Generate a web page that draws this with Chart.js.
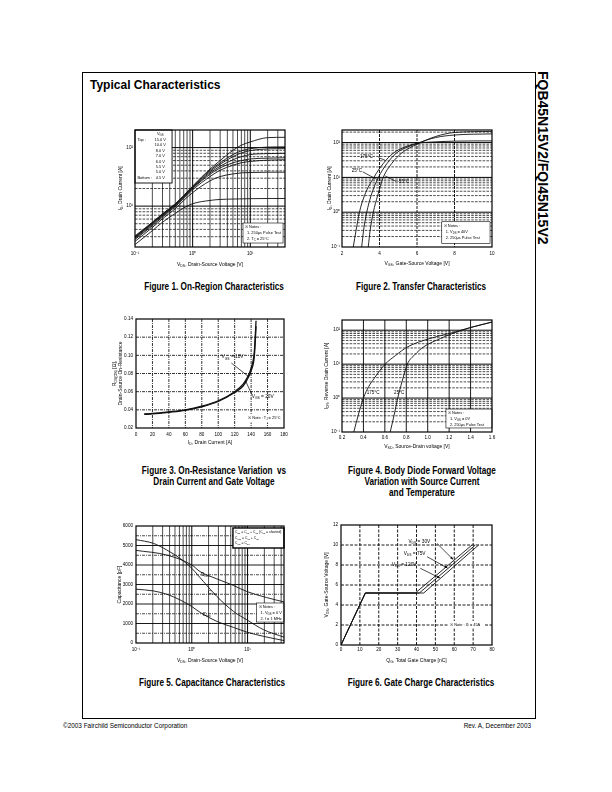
<!DOCTYPE html>
<html><head><meta charset="utf-8">
<script src="https://cdn.jsdelivr.net/npm/chart.js@4.4.0/dist/chart.umd.min.js"></script>
<style>
html,body{margin:0;padding:0;background:#fff;}
body{width:612px;height:792px;position:relative;overflow:hidden;font-family:"Liberation Sans",Arial,sans-serif;color:#000;}
#frame{position:absolute;left:82px;top:72px;width:454px;height:647px;border:1px solid #000;box-sizing:border-box;}
#title{position:absolute;left:90px;top:78px;font-weight:bold;font-size:12px;line-height:14px;white-space:nowrap;}
#side{position:absolute;left:535px;top:71px;writing-mode:vertical-rl;font-weight:bold;font-size:14px;line-height:16px;white-space:nowrap;}
.cap{position:absolute;width:260px;margin-left:-130px;font-weight:bold;font-size:10.5px;line-height:11px;text-align:center;transform:scaleX(0.78);white-space:nowrap;}
.foot{position:absolute;top:722px;font-size:6.4px;line-height:7px;white-space:nowrap;}
canvas{position:absolute;}
</style></head>
<body>
<div id="frame"></div>
<div id="title">Typical Characteristics</div>
<div id="side">FQB45N15V2/FQI45N15V2</div>
<div class="cap" style="left:214px;top:281px">Figure 1. On-Region Characteristics</div>
<div class="cap" style="left:421px;top:281px">Figure 2. Transfer Characteristics</div>
<div class="cap" style="left:214px;top:465px">Figure 3. On-Resistance Variation &nbsp;vs<br>Drain Current and Gate Voltage</div>
<div class="cap" style="left:422px;top:465px">Figure 4. Body Diode Forward Voltage<br>Variation with Source Current<br>and Temperature</div>
<div class="cap" style="left:212px;top:677px">Figure 5. Capacitance Characteristics</div>
<div class="cap" style="left:421px;top:677px">Figure 6. Gate Charge Characteristics</div>
<div class="foot" style="left:63px">©2003 Fairchild Semiconductor Corporation</div>
<div class="foot" style="right:81px">Rev. A, December 2003</div>
<script>
// ---------------- DATA ----------------
// Figure 1: On-Region characteristics (VDS [V] vs ID [A])
const f1Vds   = [0.1, 0.2, 0.3, 0.5, 0.7, 1, 2, 3, 5, 7, 10, 20, 40];
const f1Vgs   = ['15.0 V','10.0 V','8.0 V','7.0 V','6.0 V','5.5 V','5.0 V','4.5 V'];
const f1I15   = [3.1, 5.3, 7.4, 11.0, 15.2, 22.0, 43, 60, 90, 110, 125, 148, 150];
const f1I10   = [3.0, 5.2, 7.3, 10.8, 15.0, 21.5, 41, 55, 76, 88, 96, 102, 103];
const f1I8    = [2.95, 5.1, 7.2, 10.6, 14.7, 21.0, 39, 52, 70, 81, 89, 95, 96];
const f1I7    = [2.9, 5.0, 7.0, 10.4, 14.4, 20.5, 37, 48, 62, 70, 76, 79, 80];
const f1I6    = [2.8, 4.8, 6.8, 10.1, 14.0, 20.0, 35, 45, 55, 60, 64, 66, 67];
const f1I55   = [2.7, 4.6, 6.5, 9.8, 13.5, 19.0, 32, 41, 50, 55, 58, 61, 62];
const f1I5    = [2.5, 4.3, 6.1, 9.0, 12.5, 17.0, 27, 32, 35.5, 37, 37.5, 38, 38];
const f1I45   = [2.2, 3.8, 5.3, 7.5, 9.3, 11.0, 12.5, 13, 13.2, 13.3, 13.4, 13.5, 13.5];
const f1XTicks = [0.1, 1, 10];   const f1XLabels = ['10⁻¹','10⁰','10¹'];
const f1YTicks = [10, 100];      const f1YLabels = ['10¹','10²'];

// Figure 2: Transfer characteristics (VGS [V] vs ID [A])
const f2T175x = [2.6, 2.75, 2.93, 3.2, 3.7, 4.2, 4.74, 5.5, 6, 7, 8, 10];
const f2T175y = [0.1, 0.3, 1, 3, 10, 25, 50, 80, 95, 105, 110, 112];
const f2T25x  = [3.05, 3.15, 3.32, 3.55, 3.94, 4.4, 4.9, 5.5, 6, 7, 8, 10];
const f2T25y  = [0.1, 0.3, 1, 3, 10, 25, 50, 75, 95, 140, 165, 178];
const f2Tm55x = [3.4, 3.5, 3.67, 3.9, 4.2, 4.65, 5.18, 5.6, 6, 7, 8, 10];
const f2Tm55y = [0.1, 0.3, 1, 3, 10, 25, 50, 70, 90, 150, 195, 210];
const f2XTicks = [2, 4, 6, 8, 10];
const f2YTicks = [0.1, 1, 10, 100];  const f2YLabels = ['10⁻¹','10⁰','10¹','10²'];

// Figure 3: On-resistance (ID [A] vs RDS(on) [ohm])
const f3Id    = [10, 20, 40, 60, 80, 100, 120, 130, 135, 140, 144, 146];
const f3R10   = [0.0355, 0.036, 0.0378, 0.0400, 0.0440, 0.0500, 0.0600, 0.0680, 0.0750, 0.0860, 0.1050, 0.1380];
const f3R20   = [0.0350, 0.0355, 0.0373, 0.0395, 0.0433, 0.0492, 0.0590, 0.0660, 0.0730, 0.0830, 0.1000, 0.1320];
const f3XTicks = [0, 20, 40, 60, 80, 100, 120, 140, 160, 180];
const f3YTicks = [0.02, 0.04, 0.06, 0.08, 0.10, 0.12, 0.14];

// Figure 4: Body diode (VSD [V] vs IDR [A])
const f4T175x = [0.31, 0.35, 0.40, 0.45, 0.50, 0.60, 0.70, 0.81, 1.02, 1.24, 1.40, 1.60];
const f4T175y = [0.1, 0.3, 1, 2.2, 3.8, 9.8, 18, 32, 57, 86, 120, 174];
const f4T25x  = [0.65, 0.685, 0.72, 0.76, 0.81, 0.88, 0.96, 1.12, 1.24, 1.40, 1.60];
const f4T25y  = [0.1, 0.3, 1, 3, 10, 19, 32, 57, 82, 120, 174];
const f4XTicks = [0.2, 0.4, 0.6, 0.8, 1.0, 1.2, 1.4, 1.6];
const f4YTicks = [0.1, 1, 10, 100];  const f4YLabels = ['10⁻¹','10⁰','10¹','10²'];

// Figure 5: Capacitance (VDS [V] vs C [pF])
const f5CossX = [0.1, 0.205, 0.356, 0.617, 1.0, 1.62, 2.81, 5.6, 9.7, 19.4, 46];
const f5Coss  = [5300, 5110, 4770, 4340, 3830, 3150, 2390, 1620, 1190, 680, 290];
const f5CissX = [0.1, 0.356, 1.0, 1.41, 2.81, 5.6, 9.7, 22, 46];
const f5Ciss  = [4750, 4510, 4000, 3660, 3290, 2950, 2640, 2330, 2100];
const f5CrssX = [0.1, 0.205, 0.356, 0.617, 1.0, 1.41, 2.81, 5.6, 9.7, 19.4, 46];
const f5Crss  = [2760, 2670, 2500, 2210, 1870, 1570, 1110, 800, 560, 340, 120];
const f5XTicks = [0.1, 1, 10];   const f5XLabels = ['10⁻¹','10⁰','10¹'];
const f5YTicks = [0, 1000, 2000, 3000, 4000, 5000, 6000];

// Figure 6: Gate charge (QG [nC] vs VGS [V])
const f6Q30  = [0, 12.9, 39.4, 69.4];
const f6Q75  = [0, 12.9, 41.5, 71.2];
const f6Q120 = [0, 12.9, 43.8, 72.9];
const f6Vgs  = [0, 5.2, 5.2, 10];
const f6XTicks = [0, 10, 20, 30, 40, 50, 60, 70, 80];
const f6YTicks = [0, 2, 4, 6, 8, 10, 12];

// ---------------- RENDERING ----------------
const FAM = "'Liberation Sans', Arial, sans-serif";
Chart.defaults.font.family = FAM;
Chart.defaults.color = '#000';

function rich(ctx, str, x, y, size, align, rot){
  const parts = []; const re = /_\{([^}]*)\}|\^\{([^}]*)\}|([^_^]+)/g; let m;
  while((m = re.exec(str))){
    if(m[1] !== undefined) parts.push({t:m[1],k:1});
    else if(m[2] !== undefined) parts.push({t:m[2],k:2});
    else parts.push({t:m[3],k:0});
  }
  const fs = k => k ? size*0.7 : size;
  let w = 0;
  parts.forEach(p => { ctx.font = fs(p.k)+'px '+FAM; p.w = ctx.measureText(p.t).width; w += p.w; });
  ctx.save(); ctx.translate(x, y); if(rot) ctx.rotate(rot);
  let cx = align==='center' ? -w/2 : align==='right' ? -w : 0;
  ctx.textBaseline = 'middle'; ctx.textAlign = 'left'; ctx.fillStyle = '#000';
  parts.forEach(p => { ctx.font = fs(p.k)+'px '+FAM; ctx.fillText(p.t, cx, p.k===1 ? size*0.3 : p.k===2 ? -size*0.35 : 0); cx += p.w; });
  ctx.restore();
  return w;
}

const deco = {
  id: 'deco',
  beforeDatasetsDraw(chart, args, o){
    const {ctx, chartArea:a, scales:{x, y}} = chart;
    ctx.save();
    ctx.beginPath(); ctx.rect(a.left, a.top, a.width, a.height); ctx.clip();
    (o.gx||[]).forEach(g => {
      ctx.strokeStyle = g.c || '#000'; ctx.lineWidth = g.w; ctx.setLineDash(g.d || []);
      g.v.forEach(v => { const p = x.getPixelForValue(v); ctx.beginPath(); ctx.moveTo(p, a.top); ctx.lineTo(p, a.bottom); ctx.stroke(); });
    });
    (o.gy||[]).forEach(g => {
      ctx.strokeStyle = g.c || '#000'; ctx.lineWidth = g.w; ctx.setLineDash(g.d || []);
      g.v.forEach(v => { const p = y.getPixelForValue(v); ctx.beginPath(); ctx.moveTo(a.left, p); ctx.lineTo(a.right, p); ctx.stroke(); });
    });
    ctx.restore();
  },
  afterDatasetsDraw(chart, args, o){
    const {ctx, chartArea:a, scales:{x, y}} = chart;
    const fx = f => a.left + f*a.width, fy = f => a.top + f*a.height;
    ctx.save();
    ctx.setLineDash([]);
    (o.leaders||[]).forEach(l => {
      const x1 = x.getPixelForValue(l[0]), y1 = y.getPixelForValue(l[1]);
      const x2 = x.getPixelForValue(l[2]), y2 = y.getPixelForValue(l[3]);
      ctx.strokeStyle = '#000'; ctx.lineWidth = 0.7;
      ctx.beginPath(); ctx.moveTo(x1, y1); ctx.lineTo(x2, y2); ctx.stroke();
      if(l[4]){
        const ang = Math.atan2(y2-y1, x2-x1), L = 3.2, s = 0.4;
        ctx.fillStyle = '#000'; ctx.beginPath(); ctx.moveTo(x2, y2);
        ctx.lineTo(x2 - L*Math.cos(ang-s), y2 - L*Math.sin(ang-s));
        ctx.lineTo(x2 - L*Math.cos(ang+s), y2 - L*Math.sin(ang+s)); ctx.closePath(); ctx.fill();
      }
    });
    (o.labels||[]).forEach(l => {
      const px = x.getPixelForValue(l.x), py = y.getPixelForValue(l.y);
      rich(ctx, l.t, px, py, l.s || 5, l.a || 'left');
    });
    (o.boxes||[]).forEach(b => {
      const X1 = fx(b.f[0]), Y1 = fy(b.f[1]), X2 = fx(b.f[2]), Y2 = fy(b.f[3]);
      ctx.fillStyle = '#fff'; ctx.fillRect(X1, Y1, X2-X1, Y2-Y1);
      if(b.lw){ ctx.lineWidth = b.lw; ctx.strokeStyle = '#000'; ctx.strokeRect(X1, Y1, X2-X1, Y2-Y1); }
      b.rows.forEach((r, i) => {
        const ry = Y1 + b.pad + b.lh*(i+0.5);
        if(Array.isArray(r)){
          if(r[0]) rich(ctx, r[0], X1 + 2.5, ry, b.s, 'left');
          if(r[1]) rich(ctx, r[1], X1 + b.col*(X2-X1), ry, b.s, 'center');
        } else rich(ctx, r, X1 + (b.ind ? b.ind[i] : 2), ry, b.s, 'left');
      });
    });
    ctx.strokeStyle = '#000'; ctx.lineWidth = 1.2; ctx.strokeRect(a.left, a.top, a.width, a.height);
    rich(ctx, o.xt, (a.left + a.right)/2, a.bottom + o.xo, 5, 'center');
    o.yt.forEach((t, i) => rich(ctx, t, a.left - o.yo[i], (a.top + a.bottom)/2, 5, 'center', -Math.PI/2));
    ctx.restore();
  }
};

const PADL = 34, PADT = 8, PADR = 10, PADB = 26;
function axis(kind, type, min, max, vals, labels, pad){
  return {
    type, min, max,
    grid: {display:false, drawTicks:false}, border: {display:false},
    ticks: {font:{size:4.6}, color:'#000', padding:pad, autoSkip:false, maxRotation:0, minRotation:0,
            callback: (v, i) => labels[i]},
    afterBuildTicks: s => { s.ticks = vals.map(v => ({value:v})); },
    afterFit: s => { if(kind === 'x') s.height = PADB; else s.width = PADL; }
  };
}
function series(xs, ys, w, tension){
  return {data: xs.map((v, i) => ({x:v, y:ys[i]})), borderColor:'#111', borderWidth:w || 0.9,
          pointRadius:0, fill:false, tension: tension === undefined ? 0.4 : tension,
          cubicInterpolationMode: tension === 0 ? 'default' : 'monotone'};
}
function make(rect, datasets, xs, ys, decoOpts){
  const W = rect[2]-rect[0]+PADL+PADR, H = rect[3]-rect[1]+PADT+PADB;
  const cv = document.createElement('canvas');
  cv.width = W; cv.height = H;
  cv.style.left = (rect[0]-PADL)+'px'; cv.style.top = (rect[1]-PADT)+'px';
  cv.style.width = W+'px'; cv.style.height = H+'px';
  document.body.appendChild(cv);
  new Chart(cv, {
    type: 'line',
    data: {datasets},
    options: {
      responsive:false, animation:false, devicePixelRatio:1,
      layout: {padding:{left:0, top:PADT, right:PADR, bottom:0}},
      plugins: {legend:{display:false}, tooltip:{enabled:false}, deco:decoOpts},
      scales: {x:xs, y:ys}
    },
    plugins: [deco]
  });
}
const mins = d => [2,3,4,5,6,7,8,9].map(k => +(k*d).toPrecision(3));
const fmt = (arr, n) => arr.map(v => v.toFixed(n));
const DASH = [2.6, 1.2], DASHDOT = [3, 1, 1, 1];
const NOTE = '※ ';

// Figure 1
make([135,130,285,247],
  [series(f1Vds,f1I15), series(f1Vds,f1I10), series(f1Vds,f1I8), series(f1Vds,f1I7),
   series(f1Vds,f1I6), series(f1Vds,f1I55), series(f1Vds,f1I5), series(f1Vds,f1I45)],
  axis('x','logarithmic',0.1,40,f1XTicks,f1XLabels,3.5),
  axis('y','logarithmic',2,200,f1YTicks,f1YLabels,2),
  {
    gx:[{v:[...mins(0.1),...mins(1),20,30], w:0.7}, {v:[1,10], w:1}],
    gy:[{v:[3,4,5,6,7,8,9,...mins(10)], d:DASH, w:0.7}, {v:[10,100], w:1}],
    boxes:[
      {f:[0,0,0.247,0.453], lw:0.9, s:3.9, lh:5.45, pad:1.5, col:0.68,
       rows:[['','V_{GS}'], ['Top :',f1Vgs[0]], ['',f1Vgs[1]], ['',f1Vgs[2]], ['',f1Vgs[3]],
             ['',f1Vgs[4]], ['',f1Vgs[5]], ['',f1Vgs[6]], ['Bottom :',f1Vgs[7]]]},
      {f:[0.72,0.795,0.987,0.966], lw:0.6, s:3.9, lh:5.6, pad:1.6, ind:[2,4,4],
       rows:[NOTE+'Notes :','1. 250μs Pulse Test','2. T_{C} = 25°C']}
    ],
    xt:'V_{DS}, Drain-Source Voltage [V]', xo:18, yt:['I_{D}, Drain Current [A]'], yo:[14]
  });

// Figure 2
make([342,130,492,247],
  [series(f2T175x,f2T175y), series(f2T25x,f2T25y), series(f2Tm55x,f2Tm55y)],
  axis('x','linear',2,10,f2XTicks,f2XTicks.map(String),3.5),
  axis('y','logarithmic',0.1,230,f2YTicks,f2YLabels,2),
  {
    gx:[{v:[4,6,8], d:[3,1], w:0.9}],
    gy:[{v:[...mins(0.1),...mins(1),...mins(10),200], d:DASH, w:0.7}, {v:[1,10,100], w:1}],
    leaders:[[3.95,37,4.3,31],[3.1,14.5,3.85,8.8],[4.9,7.6,4.3,11]],
    labels:[{x:2.96,y:38.5,t:'175°C',s:4.6},{x:2.52,y:15.6,t:'25°C',s:4.6},{x:4.95,y:7.5,t:'-55°C',s:4.6}],
    boxes:[
      {f:[0.665,0.784,0.987,0.969], lw:0.6, s:3.9, lh:6, pad:1.6, ind:[2,4,4],
       rows:[NOTE+'Notes :','1. V_{DS} = 40V','2. 250μs Pulse Test']}
    ],
    xt:'V_{GS}, Gate-Source Voltage [V]', xo:17, yt:['I_{D}, Drain Current [A]'], yo:[12]
  });

// Figure 3
make([136,319,284,428],
  [series(f3Id,f3R10,1.3), series(f3Id,f3R20,1.3)],
  axis('x','linear',0,180,f3XTicks,f3XTicks.map(String),3.5),
  axis('y','linear',0.02,0.14,f3YTicks,fmt(f3YTicks,2),3),
  {
    gx:[{v:f3XTicks.slice(1,-1), d:DASHDOT, w:0.8}],
    gy:[{v:f3YTicks.slice(1,-1), d:DASHDOT, w:0.8}],
    leaders:[[116,0.0915,137,0.0765],[141,0.0565,133,0.0725]],
    labels:[{x:104,y:0.098,t:'V_{GS} = 10V',s:4.8},{x:140.7,y:0.0545,t:'V_{GS} = 20V',s:4.8}],
    boxes:[{f:[0.745,0.875,0.99,0.95], s:3.9, lh:6, pad:0.5, rows:[NOTE+'Note : T_{J} = 25°C']}],
    xt:'I_{D}, Drain Current [A]', xo:15, yt:['R_{DS(ON)} [Ω],','Drain-Source On-Resistance'], yo:[21,15]
  });

// Figure 4
make([342,320,492,432],
  [series(f4T175x,f4T175y), series(f4T25x,f4T25y)],
  axis('x','linear',0.2,1.6,f4XTicks,fmt(f4XTicks,1),3),
  axis('y','logarithmic',0.1,200,f4YTicks,f4YLabels,2),
  {
    gx:[{v:[0.4,0.6,0.8,1.0,1.2,1.4], w:0.9}],
    gy:[{v:[...mins(0.1),...mins(1),...mins(10)], d:DASH, w:0.7}, {v:[1,10,100], w:1}],
    labels:[{x:0.43,y:1.47,t:'175°C',s:4.6},{x:0.686,y:1.47,t:'25°C',s:4.6}],
    boxes:[
      {f:[0.693,0.795,1.0,0.964], lw:0.6, s:3.9, lh:6, pad:1.2, ind:[2,4,4],
       rows:[NOTE+'Notes :','1. V_{GS} = 0V','2. 250μs Pulse Test']}
    ],
    xt:'V_{SD}, Source-Drain voltage [V]', xo:15, yt:['I_{DR}, Reverse Drain Current [A]'], yo:[15]
  });

// Figure 5
make([136,526,284,643],
  [series(f5CossX,f5Coss), series(f5CissX,f5Ciss), series(f5CrssX,f5Crss)],
  axis('x','logarithmic',0.1,45,f5XTicks,f5XLabels,3.5),
  axis('y','linear',0,6000,f5YTicks,f5YTicks.map(String),3),
  {
    gx:[{v:[...mins(0.1),...mins(1),20,30,40], w:0.7}, {v:[1,10], w:1}],
    gy:[{v:[500,1500,2500,3500,4500,5500], d:DASHDOT, w:0.7}, {v:[1000,2000,3000,4000,5000], w:0.9}],
    labels:[{x:1.45,y:3490,t:'C_{iss}',s:5},{x:1.95,y:2580,t:'C_{oss}',s:5},{x:1.55,y:1436,t:'C_{rss}',s:5}],
    boxes:[
      {f:[0.655,0.017,1.0,0.188], lw:1.4, s:3.4, lh:5.6, pad:1.5,
       rows:['C_{iss} = C_{gs} + C_{gd} (C_{ds} = shorted)','C_{oss} = C_{ds} + C_{gd}','C_{rss} = C_{gd}']},
      {f:[0.815,0.658,1.0,0.821], lw:0.6, s:3.9, lh:5.8, pad:1.2, ind:[2,4,4],
       rows:[NOTE+'Notes :','1. V_{GS} = 0 V','2. f = 1 MHz']}
    ],
    xt:'V_{DS}, Drain-Source Voltage [V]', xo:18, yt:['Capacitance [pF]'], yo:[16]
  });

// Figure 6
make([341,525,492,645],
  [series(f6Q30,f6Vgs,0.9,0), series(f6Q75,f6Vgs,0.9,0), series(f6Q120,f6Vgs,0.9,0)],
  axis('x','linear',0,80,f6XTicks,f6XTicks.map(String),2),
  axis('y','linear',0,12,f6YTicks,f6YTicks.map(String),3),
  {
    gx:[{v:f6XTicks.slice(1,-1), d:[3,1.5], w:0.9}],
    gy:[{v:f6YTicks.slice(1,-1), d:[3,1.5], w:0.9}],
    leaders:[[50.8,10.17,59.4,8.55,1],[45.6,8.83,56.4,7.7,1],[42,7.67,52.4,6.7,1]],
    labels:[{x:35.7,y:10.33,t:'V_{DS} = 30V',s:4.8},{x:33.2,y:9.17,t:'V_{DS} = 75V',s:4.8},{x:27.0,y:8.0,t:'V_{DS} = 120V',s:4.8}],
    boxes:[{f:[0.71,0.8,0.95,0.86], s:3.9, lh:6, pad:0.5, rows:[NOTE+'Note : I_{D} = 45A']}],
    xt:'Q_{G}, Total Gate Charge [nC]', xo:16, yt:['V_{GS}, Gate-Source Voltage [V]'], yo:[14]
  });
</script>
</body></html>
